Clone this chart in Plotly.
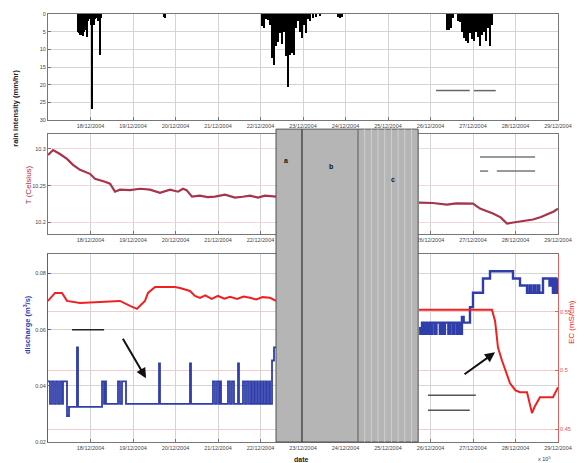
import pandas as pd
import plotly.graph_objects as go

# ---------------- data (day of December 2004, fractional) ----------------
rain_day = [17.71, 17.73, 17.75, 17.78, 17.80, 17.82, 17.85, 17.87, 17.89, 17.92, 17.94, 17.96,
            18.01, 18.035, 18.06, 18.08, 18.11, 18.13, 18.16, 18.18, 18.22, 18.245,
            19.73, 19.75,
            22.035, 22.082, 22.129, 22.176, 22.224, 22.271, 22.318, 22.365, 22.412, 22.459,
            22.506, 22.553, 22.60, 22.647, 22.694, 22.741, 22.788, 22.835, 22.882, 22.929,
            22.976, 23.024, 23.071, 23.118, 23.165, 23.235, 23.306, 23.40, 23.824, 23.871, 23.918,
            26.388, 26.435, 26.482, 26.529, 26.647, 26.694, 26.741, 26.788, 26.835, 26.882,
            26.929, 26.976, 27.024, 27.071, 27.118, 27.165, 27.212, 27.259, 27.306, 27.353,
            27.40, 27.447]
rain_mm = [5.0, 5.5, 6.0, 5.5, 6.0, 6.2, 5.0, 3.0, 4.5, 6.5, 2.0, 1.5,
           3.0, 26.9, 2.5, 3.0, 1.5, 1.0, 1.2, 2.0, 11.6, 1.0,
           0.8, 1.2,
           3.5, 4.0, 1.5, 1.7, 3.0, 12.5, 14.5, 9.0, 8.0, 5.5,
           8.5, 5.0, 12.0, 20.6, 11.5, 11.0, 11.5, 4.0, 2.0, 5.0,
           6.8, 3.0, 5.4, 1.5, 2.0, 1.0, 0.8, 0.6, 0.8, 1.2, 0.8,
           4.5, 4.5, 4.0, 1.0, 2.0, 2.3, 5.0, 6.8, 7.5, 8.2,
           5.5, 7.0, 7.7, 5.0, 6.5, 9.0, 6.0, 5.0, 7.5, 4.0,
           9.0, 3.0]

temp_day_a = [17.0, 17.118, 17.282, 17.447, 17.588, 17.753, 17.988, 18.106, 18.341, 18.459,
              18.576, 18.694, 18.93, 19.165, 19.4, 19.635, 19.871, 20.059, 20.176, 20.26,
              20.388, 20.576, 20.75, 20.929, 21.165, 21.4, 21.58, 21.753, 21.941, 22.106, 22.365]
temp_val_a = [10.2919, 10.2986, 10.2932, 10.2865, 10.2784, 10.2716, 10.2662, 10.2595, 10.2554, 10.2527,
              10.2419, 10.2446, 10.2440, 10.2459, 10.2446, 10.2405, 10.2446, 10.2419, 10.2459, 10.2440,
              10.2351, 10.2365, 10.2345, 10.2351, 10.2378, 10.2338, 10.2350, 10.2365, 10.2338, 10.2365, 10.2351]
temp_day_b = [25.729, 26.05, 26.388, 26.6, 27.0, 27.165, 27.3, 27.47, 27.65, 27.8, 27.95,
              28.106, 28.41, 28.6, 28.741, 28.9, 29.0]
temp_val_b = [10.2270, 10.2265, 10.2243, 10.2260, 10.2257, 10.2189, 10.2160, 10.2122, 10.2070, 10.1986, 10.2000,
              10.2014, 10.2041, 10.2075, 10.2108, 10.2150, 10.2189]

q_day_a = [17.000, 17.047, 17.094, 17.141, 17.188, 17.235, 17.282, 17.329, 17.353, 17.447, 17.494,
           17.682, 17.706, 18.271, 18.318, 18.341, 18.365, 18.647, 18.694, 18.741, 18.835,
           19.612, 19.635, 20.341, 20.365, 20.882, 20.929, 20.976, 21.024, 21.047, 21.071,
           21.235, 21.282, 21.329, 21.376, 21.471, 21.494, 21.588, 21.635, 21.682, 21.729,
           21.776, 21.800, 21.847, 21.871, 21.918, 21.941, 21.988, 22.012, 22.059, 22.082,
           22.129, 22.153, 22.200, 22.224, 22.271, 22.318, 22.365]
q_val_a = [0.0416, 0.0336, 0.0416, 0.0336, 0.0416, 0.0336, 0.0416, 0.0336, 0.0416, 0.0292, 0.0325,
           0.0537, 0.0325, 0.0416, 0.0336, 0.0416, 0.0336, 0.0416, 0.0336, 0.0416, 0.0336,
           0.0480, 0.0336, 0.0480, 0.0336, 0.0416, 0.0336, 0.0416, 0.0336, 0.0416, 0.0336,
           0.0416, 0.0336, 0.0416, 0.0336, 0.0480, 0.0336, 0.0416, 0.0336, 0.0416, 0.0336,
           0.0416, 0.0336, 0.0416, 0.0336, 0.0416, 0.0336, 0.0416, 0.0336, 0.0416, 0.0336,
           0.0416, 0.0336, 0.0416, 0.0336, 0.0490, 0.0537, 0.0537]
q_day_b = [25.729, 25.76, 25.80, 25.85, 25.88, 25.92, 25.96, 26.00, 26.04, 26.10, 26.14, 26.22,
           26.26, 26.30, 26.34, 26.42, 26.46, 26.52, 26.56, 26.62, 26.66, 26.70, 26.74, 26.78,
           26.929, 27.0, 27.235, 27.4, 27.941, 28.106, 28.271, 28.33, 28.36, 28.42, 28.46,
           28.52, 28.56, 28.647, 28.80, 28.84, 28.88, 28.92, 28.96, 29.0]
q_val_b = [0.0605, 0.0585, 0.0625, 0.0585, 0.0625, 0.0585, 0.0625, 0.0585, 0.0625, 0.0585, 0.0625, 0.0585,
           0.0625, 0.0585, 0.0625, 0.0585, 0.0625, 0.0585, 0.0625, 0.0585, 0.0625, 0.0585, 0.0645, 0.0625,
           0.0680, 0.0731, 0.0782, 0.0808, 0.0782, 0.0757, 0.0731, 0.0757, 0.0731, 0.0757, 0.0731,
           0.0757, 0.0731, 0.0782, 0.0757, 0.0782, 0.0731, 0.0782, 0.0731, 0.0782]

ec_day_a = [17.0, 17.165, 17.329, 17.447, 17.753, 18.224, 18.694, 18.929, 19.094, 19.165, 19.282,
            19.353, 19.518, 19.988, 20.106, 20.341, 20.459, 20.576, 20.70, 20.85, 21.0, 21.15,
            21.282, 21.45, 21.6, 21.753, 21.9, 22.05, 22.224, 22.365]
ec_val_a = [0.5593, 0.5661, 0.5661, 0.5593, 0.5576, 0.5585, 0.5593, 0.5551, 0.5525, 0.5551, 0.5593,
            0.5661, 0.5712, 0.5712, 0.5703, 0.5678, 0.5636, 0.5619, 0.5640, 0.5610, 0.5635, 0.5612,
            0.5627, 0.5610, 0.5630, 0.5619, 0.5605, 0.5625, 0.5619, 0.5593]
ec_day_b = [25.729, 27.447, 27.52, 27.588, 27.682, 27.871, 28.0, 28.106, 28.271, 28.33, 28.388,
            28.45, 28.506, 28.576, 28.882, 29.0]
ec_val_b = [0.5517, 0.5517, 0.5420, 0.5195, 0.5085, 0.4890, 0.4830, 0.4814, 0.4814, 0.4720, 0.4636,
            0.4690, 0.4729, 0.4771, 0.4771, 0.4856]

tick_days = list(range(18, 30))
x_start, x_end = 17, 29

# shaded event periods (a, b, c)
shade_start, shade_ab, shade_bc, shade_end = 22.365, 22.976, 24.294, 25.71
period_labels = ["a", "b", "c"]
period_label_day = [22.60, 23.66, 25.12]


def to_time(days):
    return [pd.Timestamp("2004-12-01") + pd.Timedelta(days=d - 1) for d in days]


fig = go.Figure()

fig.add_trace(go.Bar(x=to_time(rain_day), y=rain_mm, base=0, width=0.035 * 86400000,
                     marker=dict(color="black", line=dict(width=0)), xaxis="x", yaxis="y"))

T_COL = "#a8344a"
fig.add_trace(go.Scatter(x=to_time(temp_day_a), y=temp_val_a, mode="lines",
                         line=dict(color=T_COL, width=2.2), xaxis="x2", yaxis="y2"))
fig.add_trace(go.Scatter(x=to_time(temp_day_b), y=temp_val_b, mode="lines",
                         line=dict(color=T_COL, width=2.2), xaxis="x2", yaxis="y2"))

Q_COL = "#2f3eaa"
fig.add_trace(go.Scatter(x=to_time(q_day_a), y=q_val_a, mode="lines", line_shape="hv",
                         line=dict(color=Q_COL, width=1.8), xaxis="x3", yaxis="y3"))
fig.add_trace(go.Scatter(x=to_time(q_day_b), y=q_val_b, mode="lines", line_shape="hv",
                         line=dict(color=Q_COL, width=2.4), xaxis="x3", yaxis="y3"))

EC_COL = "#f02020"
fig.add_trace(go.Scatter(x=to_time(ec_day_a), y=ec_val_a, mode="lines",
                         line=dict(color=EC_COL, width=2), xaxis="x3", yaxis="y4"))
fig.add_trace(go.Scatter(x=to_time(ec_day_b), y=ec_val_b, mode="lines",
                         line=dict(color=EC_COL, width=2), xaxis="x3", yaxis="y4"))

GRID = "#d4d4d4"
TF = dict(family="Liberation Sans, Arial", size=5.5, color="#444")
xrange = to_time([x_start, x_end])
tickv = to_time(tick_days)


def xax(anchor):
    return dict(anchor=anchor, domain=[0, 1], type="date", range=xrange, tickvals=tickv,
                tickformat="%d/%m/%Y", tickfont=TF, showgrid=True, gridcolor=GRID,
                showline=True, mirror=True, linecolor="#777", ticks="inside", ticklen=3,
                tickcolor="#777", zeroline=False)


layout = dict(
    width=585, height=463, showlegend=False, bargap=0,
    margin=dict(l=48, r=27, t=11, b=21), paper_bgcolor="white", plot_bgcolor="white",
    font=dict(family="Liberation Sans, Arial"),
    xaxis=xax("y"), xaxis2=xax("y2"), xaxis3=xax("y3"),
    yaxis=dict(domain=[0.752, 1.0], range=[30, 0], tickvals=[0, 5, 10, 15, 20, 25, 30],
               tickfont=TF, showgrid=True, gridcolor=GRID, showline=True, mirror=True,
               linecolor="#777", ticks="inside", ticklen=3, tickcolor="#777", zeroline=False),
    yaxis2=dict(domain=[0.485, 0.719], range=[10.1838, 10.32], tickvals=[10.2, 10.25, 10.3],
                ticktext=["10.2", "10.25", "10.3"], tickfont=TF, showgrid=True,
                gridcolor="#efd6da", showline=True, mirror=True, linecolor="#777",
                ticks="inside", ticklen=3, tickcolor="#777", zeroline=False),
    yaxis3=dict(domain=[0, 0.4385], range=[0.02, 0.0868], tickvals=[0.02, 0.04, 0.06, 0.08],
                tickfont=TF, showgrid=True, gridcolor=GRID, showline=True,
                linecolor="#5060a0", ticks="inside", ticklen=3, tickcolor="#5060a0",
                zeroline=False),
    yaxis4=dict(overlaying="y3", anchor="x3", side="right", range=[0.439, 0.599],
                tickvals=[0.45, 0.5, 0.55], tickfont=dict(family="Liberation Sans, Arial",
                                                          size=5.5, color="#e05050"),
                showgrid=True, gridcolor="#f6caca", showline=True, linecolor="#e06060",
                ticks="inside", ticklen=3, tickcolor="#e06060", zeroline=False),
)
fig.update_layout(**layout)

# shaded periods
shapes = [dict(type="rect", xref="x3", yref="paper", x0=to_time([shade_start])[0],
               x1=to_time([shade_end])[0], y0=0, y1=0.731, fillcolor="#b5b5b5",
               line=dict(color="#505050", width=1), layer="above")]
n_stripes = 9
for i in range(1, n_stripes):
    d = shade_bc + (shade_end - shade_bc) * i / n_stripes
    shapes.append(dict(type="line", xref="x3", yref="paper", x0=to_time([d])[0],
                       x1=to_time([d])[0], y0=0, y1=0.731,
                       line=dict(color="#cfcfcf", width=1), layer="above"))
for d, c in [(shade_ab, "#303030"), (shade_bc, "#6a6a6a")]:
    shapes.append(dict(type="line", xref="x3", yref="paper", x0=to_time([d])[0],
                       x1=to_time([d])[0], y0=0, y1=0.731,
                       line=dict(color=c, width=1.2), layer="above"))

# leftover legend sample lines (text removed in original)
legend_lines = [
    (0.761, 0.827, 0.821, "#666"), (0.835, 0.878, 0.821, "#666"),
    (0.847, 0.955, 0.666, "#777"), (0.847, 0.863, 0.633, "#777"), (0.880, 0.955, 0.633, "#777"),
    (0.047, 0.110, 0.262, "#222"),
    (0.745, 0.839, 0.109, "#555"), (0.745, 0.827, 0.074, "#555"),
]
for x0, x1, yy, c in legend_lines:
    shapes.append(dict(type="line", xref="paper", yref="paper", x0=x0, x1=x1, y0=yy, y1=yy,
                       line=dict(color=c, width=1.5)))
fig.update_layout(shapes=shapes)

ann = []
for lab, d, yy in zip(period_labels, period_label_day, [0.6705, 0.643, 0.6125]):
    ann.append(dict(text="<b>%s</b>" % lab, x=to_time([d])[0], xref="x3", y=yy, yref="paper",
                    showarrow=False, font=dict(size=7, color="#111")))

title_font = dict(family="Liberation Sans, Arial", size=7.5)
ann += [
    dict(text="<b>rain intensity (mm/hr)</b>", x=-0.078, y=0.875, xref="paper", yref="paper",
         textangle=-90, showarrow=False, font=dict(title_font, color="#222")),
    dict(text="T (Celsius)", x=-0.051, y=0.601, xref="paper", yref="paper",
         textangle=-90, showarrow=False, font=dict(title_font, size=8, color=T_COL)),
    dict(text="<b>discharge (m<sup>3</sup>/s)</b>", x=-0.055, y=0.202, xref="paper", yref="paper",
         textangle=-90, showarrow=False, font=dict(title_font, color=Q_COL)),
    dict(text="EC (mS/cm)", x=1.039, y=0.225, xref="paper", yref="paper",
         textangle=-90, showarrow=False, font=dict(title_font, size=8, color=EC_COL)),
    dict(text="<b>date</b>", x=0.498, y=-0.028, xref="paper", yref="paper", yanchor="top",
         showarrow=False, font=dict(title_font, size=7, color="#222")),
    dict(text="x 10<sup>5</sup>", x=0.99, y=-0.028, xref="paper", yref="paper", yanchor="top",
         showarrow=False, font=dict(title_font, size=5.5, color="#333")),
    dict(text="", x=to_time([19.306])[0], y=0.0427, xref="x3", yref="y3", showarrow=True,
         arrowhead=2, arrowwidth=2, arrowsize=1, arrowcolor="#111", ax=-24, ay=-41),
    dict(text="", x=to_time([27.518])[0], y=0.0519, xref="x3", yref="y3", showarrow=True,
         arrowhead=2, arrowwidth=2, arrowsize=1, arrowcolor="#111", ax=-32, ay=23),
]
fig.update_layout(annotations=ann)

fig.write_html("out.html", config={"displayModeBar": False},
               post_script="document.body.style.margin='0';document.body.style.padding='0';")
